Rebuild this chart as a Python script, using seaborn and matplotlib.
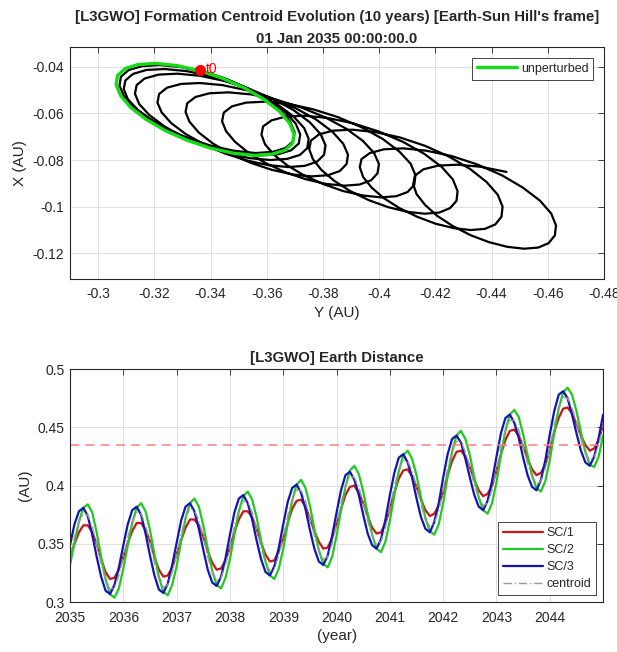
import numpy as np
import pandas as pd
import seaborn as sns
import matplotlib.pyplot as plt
from matplotlib.ticker import FuncFormatter, MultipleLocator

# formation centroid in the Earth-Sun Hill's frame (AU), 24 samples a year
hill_y = [
    -0.3364, -0.3446, -0.3524, -0.3593, -0.3647, -0.3683, -0.3699, -0.3694, -0.3667, -0.3622, -0.3560, -0.3487,
    -0.3407, -0.3326, -0.3249, -0.3181, -0.3127, -0.3091, -0.3076, -0.3081, -0.3109, -0.3156, -0.3219, -0.3295,
    -0.3377, -0.3461, -0.3541, -0.3611, -0.3666, -0.3703, -0.3719, -0.3714, -0.3687, -0.3641, -0.3579, -0.3505,
    -0.3425, -0.3343, -0.3265, -0.3197, -0.3143, -0.3106, -0.3091, -0.3097, -0.3124, -0.3172, -0.3237, -0.3315,
    -0.3399, -0.3485, -0.3567, -0.3638, -0.3695, -0.3733, -0.3749, -0.3744, -0.3718, -0.3673, -0.3612, -0.3539,
    -0.3459, -0.3379, -0.3302, -0.3235, -0.3182, -0.3146, -0.3131, -0.3137, -0.3165, -0.3215, -0.3282, -0.3362,
    -0.3449, -0.3537, -0.3621, -0.3695, -0.3753, -0.3792, -0.3809, -0.3804, -0.3779, -0.3735, -0.3676, -0.3606,
    -0.3529, -0.3451, -0.3377, -0.3312, -0.3260, -0.3226, -0.3211, -0.3217, -0.3245, -0.3295, -0.3362, -0.3442,
    -0.3529, -0.3617, -0.3701, -0.3775, -0.3833, -0.3872, -0.3889, -0.3884, -0.3860, -0.3818, -0.3760, -0.3693,
    -0.3618, -0.3543, -0.3471, -0.3408, -0.3358, -0.3325, -0.3311, -0.3317, -0.3346, -0.3396, -0.3464, -0.3545,
    -0.3633, -0.3723, -0.3808, -0.3883, -0.3942, -0.3982, -0.3999, -0.3994, -0.3971, -0.3930, -0.3875, -0.3809,
    -0.3738, -0.3665, -0.3596, -0.3535, -0.3487, -0.3455, -0.3441, -0.3447, -0.3476, -0.3526, -0.3594, -0.3675,
    -0.3763, -0.3853, -0.3938, -0.4013, -0.4072, -0.4112, -0.4129, -0.4125, -0.4101, -0.4061, -0.4007, -0.3943,
    -0.3872, -0.3801, -0.3733, -0.3673, -0.3626, -0.3594, -0.3581, -0.3587, -0.3617, -0.3667, -0.3736, -0.3818,
    -0.3908, -0.3999, -0.4086, -0.4161, -0.4222, -0.4262, -0.4279, -0.4275, -0.4252, -0.4214, -0.4162, -0.4100,
    -0.4032, -0.3963, -0.3897, -0.3840, -0.3794, -0.3764, -0.3751, -0.3757, -0.3786, -0.3836, -0.3904, -0.3985,
    -0.4073, -0.4163, -0.4248, -0.4323, -0.4382, -0.4422, -0.4439, -0.4435, -0.4413, -0.4376, -0.4326, -0.4266,
    -0.4201, -0.4135, -0.4072, -0.4016, -0.3973, -0.3943, -0.3931, -0.3937, -0.3967, -0.4017, -0.4086, -0.4168,
    -0.4258, -0.4349, -0.4436, -0.4511, -0.4572, -0.4612, -0.4629, -0.4625, -0.4603, -0.4566, -0.4516, -0.4456,
    -0.4391, -0.4325, -0.4262, -0.4206, -0.4163, -0.4133, -0.4121, -0.4127, -0.4157, -0.4209, -0.4279, -0.4362,
    -0.4453,
]
hill_x = [
    -0.0416, -0.0448, -0.0489, -0.0536, -0.0586, -0.0635, -0.0681, -0.0719, -0.0748, -0.0765, -0.0770, -0.0761,
    -0.0741, -0.0709, -0.0669, -0.0623, -0.0574, -0.0525, -0.0481, -0.0443, -0.0414, -0.0398, -0.0393, -0.0402,
    -0.0423, -0.0456, -0.0497, -0.0544, -0.0595, -0.0644, -0.0690, -0.0729, -0.0758, -0.0775, -0.0780, -0.0772,
    -0.0751, -0.0720, -0.0681, -0.0635, -0.0587, -0.0540, -0.0496, -0.0459, -0.0431, -0.0414, -0.0410, -0.0419,
    -0.0440, -0.0473, -0.0515, -0.0562, -0.0613, -0.0663, -0.0709, -0.0749, -0.0778, -0.0795, -0.0800, -0.0792,
    -0.0771, -0.0740, -0.0701, -0.0655, -0.0607, -0.0560, -0.0516, -0.0479, -0.0451, -0.0434, -0.0430, -0.0439,
    -0.0461, -0.0495, -0.0537, -0.0586, -0.0638, -0.0690, -0.0737, -0.0777, -0.0807, -0.0825, -0.0830, -0.0822,
    -0.0802, -0.0772, -0.0733, -0.0689, -0.0642, -0.0596, -0.0554, -0.0517, -0.0490, -0.0474, -0.0470, -0.0479,
    -0.0501, -0.0535, -0.0577, -0.0626, -0.0678, -0.0730, -0.0777, -0.0817, -0.0847, -0.0865, -0.0870, -0.0862,
    -0.0842, -0.0812, -0.0773, -0.0729, -0.0682, -0.0636, -0.0594, -0.0557, -0.0530, -0.0514, -0.0510, -0.0519,
    -0.0541, -0.0575, -0.0617, -0.0666, -0.0718, -0.0770, -0.0817, -0.0857, -0.0887, -0.0905, -0.0910, -0.0902,
    -0.0882, -0.0852, -0.0813, -0.0769, -0.0722, -0.0676, -0.0634, -0.0597, -0.0570, -0.0554, -0.0550, -0.0559,
    -0.0582, -0.0616, -0.0660, -0.0710, -0.0764, -0.0816, -0.0865, -0.0906, -0.0937, -0.0955, -0.0960, -0.0952,
    -0.0933, -0.0903, -0.0866, -0.0823, -0.0778, -0.0733, -0.0691, -0.0656, -0.0630, -0.0614, -0.0610, -0.0620,
    -0.0643, -0.0678, -0.0723, -0.0774, -0.0829, -0.0883, -0.0933, -0.0975, -0.1006, -0.1025, -0.1030, -0.1022,
    -0.1002, -0.0972, -0.0933, -0.0889, -0.0842, -0.0796, -0.0754, -0.0717, -0.0690, -0.0674, -0.0670, -0.0680,
    -0.0703, -0.0739, -0.0785, -0.0838, -0.0894, -0.0949, -0.1000, -0.1043, -0.1076, -0.1095, -0.1100, -0.1092,
    -0.1073, -0.1043, -0.1006, -0.0963, -0.0918, -0.0873, -0.0831, -0.0796, -0.0770, -0.0754, -0.0750, -0.0760,
    -0.0783, -0.0819, -0.0865, -0.0918, -0.0974, -0.1029, -0.1080, -0.1123, -0.1156, -0.1175, -0.1180, -0.1172,
    -0.1152, -0.1122, -0.1083, -0.1039, -0.0992, -0.0946, -0.0904, -0.0867, -0.0840, -0.0824, -0.0820, -0.0829,
    -0.0851,
]

# unperturbed (closed) orbit
unpert_y = [
    -0.3361, -0.3443, -0.3522, -0.3590, -0.3645, -0.3681, -0.3697, -0.3692, -0.3665, -0.3619, -0.3556, -0.3482,
    -0.3400, -0.3318, -0.3239, -0.3171, -0.3116, -0.3080, -0.3064, -0.3069, -0.3096, -0.3142, -0.3205, -0.3279,
    -0.3361,
]
unpert_x = [
    -0.0417, -0.0450, -0.0492, -0.0540, -0.0591, -0.0642, -0.0689, -0.0728, -0.0758, -0.0775, -0.0780, -0.0771,
    -0.0749, -0.0716, -0.0674, -0.0626, -0.0575, -0.0524, -0.0477, -0.0438, -0.0408, -0.0391, -0.0386, -0.0395,
    -0.0417,
]

# Earth distance (AU), monthly from Jan 2035 to Jan 2045
years = 2035 + np.arange(121) / 12
sc1 = [
    .339, .350, .360, .366, .366, .360, .350, .337, .326, .320, .321, .328,
    .339, .351, .361, .368, .368, .362, .352, .339, .328, .322, .323, .330,
    .341, .353, .364, .371, .371, .366, .356, .344, .334, .328, .329, .336,
    .347, .360, .371, .378, .378, .373, .363, .351, .341, .335, .336, .344,
    .355, .368, .380, .387, .388, .382, .372, .361, .352, .346, .347, .355,
    .367, .380, .392, .399, .400, .394, .385, .374, .364, .359, .360, .368,
    .380, .394, .406, .413, .414, .408, .399, .388, .379, .374, .376, .383,
    .395, .409, .421, .429, .430, .425, .416, .405, .396, .391, .393, .400,
    .413, .427, .439, .447, .448, .443, .434, .423, .414, .409, .411, .418,
    .431, .446, .458, .466, .467, .462, .453, .443, .435, .430, .432, .439,
    .452,
]
sc2 = [
    .332, .351, .369, .381, .384, .377, .360, .339, .320, .307, .304, .312,
    .329, .349, .368, .381, .385, .378, .362, .341, .322, .309, .306, .315,
    .331, .352, .372, .385, .389, .382, .366, .346, .327, .315, .312, .321,
    .337, .358, .378, .391, .395, .388, .373, .353, .335, .323, .320, .329,
    .346, .367, .387, .401, .405, .398, .383, .363, .345, .333, .330, .339,
    .357, .379, .399, .413, .417, .410, .395, .376, .358, .346, .343, .352,
    .370, .392, .412, .426, .430, .423, .409, .390, .372, .361, .358, .367,
    .385, .408, .429, .443, .447, .440, .426, .407, .390, .379, .376, .385,
    .403, .426, .447, .461, .465, .459, .444, .426, .409, .398, .395, .404,
    .422, .445, .466, .480, .484, .478, .464, .446, .429, .418, .416, .425,
    .443,
]
sc3 = [
    .349, .367, .378, .381, .374, .358, .339, .322, .310, .307, .315, .330,
    .349, .367, .379, .382, .375, .359, .340, .323, .311, .308, .316, .332,
    .351, .370, .382, .385, .378, .363, .345, .328, .317, .314, .322, .338,
    .358, .377, .389, .392, .385, .371, .353, .337, .326, .323, .331, .347,
    .367, .386, .398, .401, .394, .380, .362, .346, .335, .332, .340, .357,
    .377, .396, .409, .412, .405, .392, .375, .359, .349, .346, .354, .371,
    .392, .411, .424, .427, .420, .407, .389, .373, .363, .360, .369, .385,
    .407, .427, .440, .443, .437, .423, .407, .392, .382, .379, .387, .404,
    .425, .445, .458, .461, .454, .441, .424, .409, .399, .396, .405, .422,
    .444, .464, .478, .481, .475, .461, .445, .430, .420, .417, .425, .441,
    .461,
]
centroid = [
    .340, .356, .369, .376, .375, .365, .350, .333, .319, .311, .313, .323,
    .339, .356, .369, .377, .376, .366, .351, .334, .320, .313, .315, .326,
    .341, .358, .373, .380, .379, .370, .356, .339, .326, .319, .321, .332,
    .347, .365, .379, .387, .386, .377, .363, .347, .334, .327, .329, .340,
    .356, .374, .388, .396, .396, .387, .372, .357, .344, .337, .339, .350,
    .367, .385, .400, .408, .407, .399, .385, .370, .357, .350, .352, .364,
    .381, .399, .414, .422, .421, .413, .399, .384, .371, .365, .368, .378,
    .396, .415, .430, .438, .438, .429, .416, .401, .389, .383, .385, .396,
    .414, .433, .448, .456, .456, .448, .434, .419, .407, .401, .404, .415,
    .432, .452, .467, .476, .475, .467, .454, .440, .428, .422, .424, .435,
    .452,
]
distance_limit = 0.435

sns.set_theme(style="whitegrid")
plt.rcParams['font.family'] = ['Liberation Sans', 'DejaVu Sans']
plt.rcParams.update({
    'axes.edgecolor': '#262626', 'axes.linewidth': 0.8,
    'grid.color': '#e0e0e0', 'grid.linewidth': 0.7,
    'xtick.color': '#262626', 'ytick.color': '#262626',
    'xtick.labelsize': 10, 'ytick.labelsize': 10,
    'axes.labelcolor': '#262626', 'axes.labelsize': 11,
})

fig = plt.figure(figsize=(6.17, 6.52), dpi=100)
ax1 = fig.add_axes([0.1135, 0.572, 0.8655, 0.3558])
ax2 = fig.add_axes([0.1135, 0.0762, 0.8640, 0.3578])

fmt = FuncFormatter(lambda v, p: f"{v:g}")
for ax in (ax1, ax2):
    ax.tick_params(direction='in', length=4, width=0.6, top=True, right=True)
    ax.tick_params(axis='x', pad=6)
    ax.tick_params(axis='y', pad=4)
    ax.xaxis.set_major_formatter(fmt)
    ax.yaxis.set_major_formatter(fmt)
    for s in ax.spines.values():
        s.set_visible(True)
        s.set_color('#262626')

# --- top: centroid trajectory ---
traj = pd.DataFrame({"Y": hill_y, "X": hill_x})
sns.lineplot(data=traj, x="Y", y="X", sort=False, estimator=None, color="black", lw=1.6, ax=ax1)
sns.lineplot(x=unpert_y, y=unpert_x, sort=False, estimator=None, color="#14dc14", lw=2.4,
             label="unperturbed", ax=ax1)
ax1.plot(hill_y[0], hill_x[0], 'o', color='red', ms=7, zorder=5)
ax1.annotate("t0", (hill_y[0], hill_x[0]), xytext=(4, 1), textcoords='offset points',
             color='red', fontsize=10, va='center')
ax1.set_xlim(-0.29, -0.48)
ax1.set_ylim(-0.131, -0.0316)
ax1.xaxis.set_major_locator(MultipleLocator(0.02))
ax1.yaxis.set_major_locator(MultipleLocator(0.02))
ax1.set_xlabel("Y (AU)", labelpad=3)
ax1.set_ylabel("X (AU)", labelpad=4)
ax1.set_title("[L3GWO] Formation Centroid Evolution (10 years) [Earth-Sun Hill's frame]\n01 Jan 2035 00:00:00.0",
              fontsize=10.8, fontweight='bold', pad=3, linespacing=1.7)
leg1 = ax1.legend(loc='upper right', fontsize=9, frameon=True, fancybox=False, framealpha=1,
                  edgecolor='#262626', handlelength=3.2, handletextpad=0.3, borderaxespad=0.85)
leg1.get_frame().set_linewidth(0.6)

# --- bottom: Earth distance ---
sns.lineplot(x=years, y=sc1, color="#cc1414", lw=1.6, label="SC/1", ax=ax2)
sns.lineplot(x=years, y=sc2, color="#22c822", lw=1.6, label="SC/2", ax=ax2)
sns.lineplot(x=years, y=sc3, color="#1414b4", lw=1.6, label="SC/3", ax=ax2)
sns.lineplot(x=years, y=centroid, color="#9a9a9a", lw=1.0, label="centroid", ax=ax2)
ax2.lines[-1].set_linestyle((0, (6, 2, 1, 2)))
ax2.axhline(distance_limit, color="#ff8080", lw=1.1, ls=(0, (6, 4)))
ax2.set_xlim(2035, 2045)
ax2.set_ylim(0.3, 0.5)
ax2.set_xticks(range(2035, 2045))
ax2.yaxis.set_major_locator(MultipleLocator(0.05))
ax2.set_xlabel("(year)", labelpad=3)
ax2.set_ylabel("(AU)", labelpad=4)
ax2.set_title("[L3GWO] Earth Distance", fontsize=10.8, fontweight='bold', pad=5)
leg2 = ax2.legend(loc='lower right', fontsize=9, frameon=True, fancybox=False, framealpha=1,
                  edgecolor='#262626', handlelength=3.2, handletextpad=0.3, labelspacing=0.4,
                  borderaxespad=0.55)
leg2.get_frame().set_linewidth(0.6)
leg2.get_lines()[3].set_linestyle((0, (6, 2, 1, 2)))

fig.savefig("out.png", dpi=100)
